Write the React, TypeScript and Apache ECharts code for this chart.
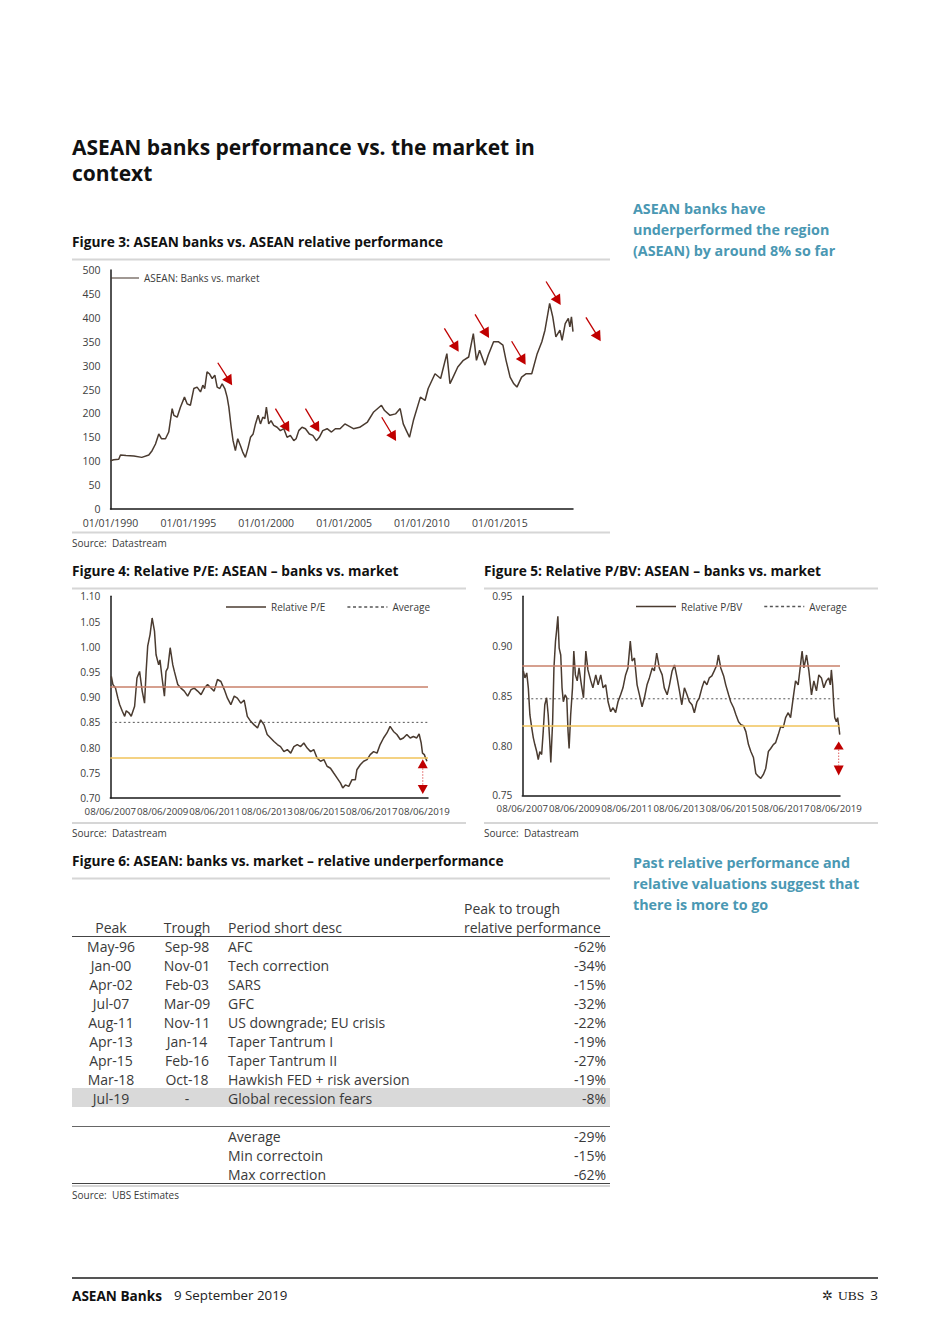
import React, { useEffect, useRef } from "react";
import * as echarts from "echarts";

const FONT = '"Open Sans", "Noto Sans", "DejaVu Sans", sans-serif';
const INK = "#3a3a3a";
const AXIS_TXT = "#404040";
const SERIES = "#4a3b30";
const RED = "#c00000";
const TEAL = "#4a98b3";
const BAND_HIGH = "#c8806a";
const BAND_LOW = "#f0c35a";

// ---------- Figure 3: ASEAN banks vs. market (index, by year) ----------
const fig3Ticks = [1990, 1995, 2000, 2005, 2010, 2015];
const bankVsMarket: [number, number][] = [
  [1990.0, 101], [1990.21, 103], [1990.53, 104], [1990.64, 113], [1991.0, 112], [1991.5, 111],
  [1992.01, 108], [1992.46, 113], [1992.67, 122], [1992.89, 136], [1993.1, 157], [1993.27, 147],
  [1993.53, 147], [1993.74, 161], [1993.96, 210], [1994.07, 196], [1994.28, 192], [1994.49, 213],
  [1994.75, 234], [1994.92, 220], [1995.13, 217], [1995.35, 252], [1995.56, 255], [1995.78, 245],
  [1995.93, 259], [1996.05, 252], [1996.2, 287], [1996.35, 283], [1996.53, 273], [1996.7, 280],
  [1996.85, 255], [1997.02, 252], [1997.17, 262], [1997.34, 252], [1997.49, 234], [1997.6, 213],
  [1997.75, 171], [1997.87, 143], [1998.02, 122], [1998.17, 147], [1998.34, 133], [1998.49, 119],
  [1998.66, 108], [1998.84, 129], [1998.99, 150], [1999.16, 157], [1999.31, 178], [1999.48, 196],
  [1999.63, 178], [1999.78, 192], [1999.91, 189], [2000.01, 213], [2000.16, 178], [2000.31, 185],
  [2000.48, 175], [2000.7, 171], [2000.91, 164], [2001.13, 168], [2001.34, 150], [2001.55, 154],
  [2001.77, 143], [2001.92, 147], [2002.09, 164], [2002.3, 171], [2002.52, 168], [2002.77, 157],
  [2002.99, 154], [2003.22, 143], [2003.41, 150], [2003.63, 164], [2003.91, 168], [2004.19, 161],
  [2004.44, 168], [2004.74, 168], [2005.05, 178], [2005.6, 168], [2006.0, 171], [2006.5, 182],
  [2006.9, 203], [2007.4, 217], [2007.6, 206], [2007.95, 196], [2008.3, 199], [2008.6, 210],
  [2008.8, 178], [2009.0, 164], [2009.2, 150], [2009.45, 185], [2009.9, 234], [2010.2, 227],
  [2010.4, 252], [2010.84, 283], [2011.2, 273], [2011.6, 325], [2011.8, 262], [2012.0, 276],
  [2012.3, 297], [2012.66, 311], [2013.0, 318], [2013.3, 367], [2013.5, 311], [2013.7, 332],
  [2014.05, 301], [2014.26, 322], [2014.6, 350], [2014.9, 350], [2015.2, 343], [2015.4, 311],
  [2015.66, 276], [2015.9, 262], [2016.1, 255], [2016.4, 276], [2016.7, 283], [2017.05, 283],
  [2017.4, 325], [2017.7, 350], [2017.9, 374], [2018.2, 430], [2018.4, 402], [2018.6, 360],
  [2018.86, 374], [2019.0, 353], [2019.2, 388], [2019.4, 399], [2019.5, 381], [2019.6, 402],
  [2019.7, 371],
];
// red arrows (data coords: x1, y1, x2, y2)
const fig3Arrows: [number, number, number, number][] = [
  [1996.89, 306, 1997.81, 259],
  [2000.59, 210, 2001.49, 161],
  [2002.52, 210, 2003.41, 161],
  [2007.42, 192, 2008.34, 142],
  [2011.44, 378, 2012.36, 329],
  [2013.41, 407, 2014.31, 358],
  [2015.76, 351, 2016.66, 302],
  [2017.97, 476, 2018.91, 427],
  [2020.53, 401, 2021.48, 351],
];

// ---------- Figure 4 / 5: years since 08/06/2007 ----------
const valTickLabels = ["08/06/2007", "08/06/2009", "08/06/2011", "08/06/2013", "08/06/2015", "08/06/2017", "08/06/2019"];
const relativePE: [number, number][] = [
  [0.04, 0.941], [0.1, 0.925], [0.2, 0.918], [0.29, 0.898], [0.36, 0.885], [0.46, 0.872], [0.55, 0.862],
  [0.61, 0.873], [0.71, 0.869], [0.8, 0.862], [0.93, 0.882], [1.02, 0.938], [1.12, 0.951], [1.22, 0.912],
  [1.31, 0.888], [1.37, 0.951], [1.43, 1.001], [1.52, 1.024], [1.6, 1.057], [1.69, 1.031], [1.75, 0.984],
  [1.85, 0.964], [1.9, 0.974], [1.98, 0.938], [2.07, 0.902], [2.13, 0.951], [2.2, 0.958], [2.29, 0.998],
  [2.39, 0.964], [2.45, 0.951], [2.58, 0.925], [2.7, 0.918], [2.83, 0.912], [2.96, 0.902], [3.09, 0.915],
  [3.21, 0.918], [3.34, 0.912], [3.47, 0.905], [3.6, 0.918], [3.72, 0.925], [3.85, 0.918], [3.97, 0.912],
  [4.1, 0.935], [4.23, 0.931], [4.36, 0.915], [4.48, 0.898], [4.61, 0.885], [4.74, 0.902], [4.86, 0.898],
  [4.99, 0.888], [5.12, 0.894], [5.24, 0.862], [5.37, 0.852], [5.5, 0.845], [5.63, 0.839], [5.75, 0.855],
  [5.88, 0.845], [6.0, 0.826], [6.13, 0.819], [6.26, 0.812], [6.39, 0.806], [6.51, 0.802], [6.64, 0.792],
  [6.77, 0.796], [6.9, 0.789], [7.02, 0.802], [7.15, 0.806], [7.28, 0.802], [7.4, 0.809], [7.53, 0.799],
  [7.66, 0.792], [7.78, 0.796], [7.91, 0.779], [8.04, 0.773], [8.17, 0.776], [8.29, 0.763], [8.42, 0.759],
  [8.55, 0.749], [8.67, 0.74], [8.8, 0.73], [8.89, 0.72], [8.99, 0.726], [9.12, 0.723], [9.24, 0.736],
  [9.37, 0.736], [9.43, 0.756], [9.56, 0.766], [9.69, 0.773], [9.82, 0.776], [9.94, 0.786], [10.07, 0.792],
  [10.2, 0.789], [10.32, 0.806], [10.45, 0.819], [10.58, 0.829], [10.7, 0.842], [10.83, 0.832], [10.96, 0.826],
  [11.09, 0.816], [11.21, 0.819], [11.34, 0.826], [11.47, 0.819], [11.59, 0.822], [11.72, 0.819], [11.81, 0.827],
  [11.89, 0.809], [11.94, 0.789], [12.01, 0.786], [12.06, 0.779], [12.11, 0.773],
];
const peLevels = { high: 0.92, average: 0.85, low: 0.78 };
const peGap = { x: 11.95, upApex: 0.777, upBase: 0.759, downBase: 0.726, downApex: 0.708 };

const relativePBV: [number, number][] = [
  [0.04, 0.875], [0.1, 0.868], [0.17, 0.873], [0.23, 0.858], [0.29, 0.831], [0.36, 0.818], [0.42, 0.808],
  [0.48, 0.801], [0.55, 0.794], [0.61, 0.786], [0.67, 0.794], [0.74, 0.791], [0.8, 0.814], [0.86, 0.841],
  [0.93, 0.848], [0.99, 0.831], [1.05, 0.804], [1.09, 0.783], [1.16, 0.824], [1.21, 0.878], [1.27, 0.905],
  [1.31, 0.915], [1.36, 0.93], [1.41, 0.898], [1.47, 0.891], [1.52, 0.858], [1.57, 0.844], [1.64, 0.851],
  [1.7, 0.848], [1.75, 0.814], [1.79, 0.797], [1.85, 0.831], [1.92, 0.858], [1.97, 0.895], [2.03, 0.871],
  [2.1, 0.865], [2.17, 0.878], [2.26, 0.861], [2.34, 0.848], [2.43, 0.895], [2.51, 0.876], [2.62, 0.865],
  [2.7, 0.858], [2.81, 0.871], [2.9, 0.861], [3.0, 0.871], [3.09, 0.858], [3.19, 0.861], [3.28, 0.844],
  [3.38, 0.834], [3.47, 0.838], [3.57, 0.833], [3.66, 0.844], [3.76, 0.851], [3.85, 0.858], [3.95, 0.871],
  [4.04, 0.878], [4.13, 0.905], [4.2, 0.885], [4.29, 0.888], [4.39, 0.861], [4.48, 0.851], [4.58, 0.839],
  [4.67, 0.848], [4.77, 0.861], [4.86, 0.868], [4.97, 0.878], [5.05, 0.875], [5.14, 0.893], [5.24, 0.878],
  [5.35, 0.871], [5.43, 0.858], [5.54, 0.851], [5.63, 0.861], [5.73, 0.875], [5.82, 0.881], [5.92, 0.868],
  [6.01, 0.855], [6.1, 0.841], [6.2, 0.858], [6.3, 0.851], [6.39, 0.844], [6.49, 0.841], [6.58, 0.833],
  [6.68, 0.844], [6.77, 0.848], [6.87, 0.858], [6.96, 0.865], [7.06, 0.861], [7.15, 0.868], [7.25, 0.87],
  [7.34, 0.875], [7.44, 0.881], [7.5, 0.891], [7.59, 0.878], [7.7, 0.87], [7.78, 0.861], [7.89, 0.851],
  [7.97, 0.844], [8.08, 0.838], [8.17, 0.831], [8.27, 0.824], [8.36, 0.821], [8.46, 0.82], [8.55, 0.814],
  [8.65, 0.801], [8.74, 0.794], [8.84, 0.788], [8.93, 0.772], [9.03, 0.769], [9.12, 0.767], [9.22, 0.771],
  [9.31, 0.777], [9.41, 0.794], [9.5, 0.797], [9.6, 0.801], [9.69, 0.803], [9.79, 0.811], [9.88, 0.819],
  [9.98, 0.818], [10.07, 0.828], [10.17, 0.833], [10.26, 0.828], [10.36, 0.848], [10.45, 0.865], [10.55, 0.861],
  [10.64, 0.881], [10.7, 0.895], [10.77, 0.878], [10.87, 0.891], [10.96, 0.875], [11.06, 0.851], [11.15, 0.865],
  [11.25, 0.855], [11.34, 0.871], [11.44, 0.868], [11.53, 0.858], [11.63, 0.865], [11.72, 0.868], [11.78, 0.861],
  [11.82, 0.876], [11.87, 0.861], [11.91, 0.841], [11.95, 0.828], [12.01, 0.824], [12.06, 0.828], [12.11, 0.818],
  [12.14, 0.811],
];
const pbvLevels = { high: 0.877, average: 0.847, low: 0.816 };
const pbvGap = { x: 12.1, upApex: 0.804, upBase: 0.796, downBase: 0.78, downApex: 0.77 };
const VAL_MAX = 12.15;

// ---------- Figure 6 table ----------
const peaks = ["May-96", "Jan-00", "Apr-02", "Jul-07", "Aug-11", "Apr-13", "Apr-15", "Mar-18", "Jul-19"];
const troughs = ["Sep-98", "Nov-01", "Feb-03", "Mar-09", "Nov-11", "Jan-14", "Feb-16", "Oct-18", "-"];
const periodDescs = ["AFC", "Tech correction", "SARS", "GFC", "US downgrade; EU crisis", "Taper Tantrum I", "Taper Tantrum II", "Hawkish FED + risk aversion", "Global recession fears"];
const peakToTrough = ["-62%", "-34%", "-15%", "-32%", "-22%", "-19%", "-27%", "-19%", "-8%"];
const summaryLabels = ["Average", "Min correctoin", "Max correction"];
const summaryValues = ["-29%", "-15%", "-62%"];

// legend icons
const SOLID_ICON = "path://M0,0H40V1.5H0Z";
const DASH_ICON =
  "path://" +
  [0, 5.6, 11.2, 16.8, 22.4, 28, 33.6].map((s) => `M${s},0H${s + 3}V1.5H${s}Z`).join("") +
  "M39,0H40V1.5H39Z";

function txt(text: string, x: number, y: number, o: any = {}) {
  const align = o.align || "left";
  return {
    type: "text",
    x,
    y,
    silent: true,
    z: 10,
    style: {
      text,
      fill: o.color || INK,
      fontSize: o.size || 12,
      fontWeight: o.weight || "normal",
      fontFamily: o.family || FONT,
      textAlign: align,
      align,
      textVerticalAlign: "middle",
      verticalAlign: "middle",
    },
  };
}
function hline(x1: number, x2: number, y: number, color: string, w: number) {
  return { type: "line", silent: true, shape: { x1, y1: y, x2, y2: y }, style: { stroke: color, lineWidth: w } };
}

function staticGraphics() {
  const els: any[] = [];
  const H = { size: 13.7, weight: "bold", color: "#111" };
  els.push(txt("ASEAN banks performance vs. the market in", 72, 147, { size: 21, weight: "bold", color: "#111" }));
  els.push(txt("context", 72, 173, { size: 21, weight: "bold", color: "#111" }));
  ["ASEAN banks have", "underperformed the region", "(ASEAN) by around 8% so far"].forEach((t, i) =>
    els.push(txt(t, 633, 208 + i * 21, { size: 14.3, weight: "bold", color: TEAL }))
  );
  ["Past relative performance and", "relative valuations suggest that", "there is more to go"].forEach((t, i) =>
    els.push(txt(t, 633, 862 + i * 21, { size: 14.3, weight: "bold", color: TEAL }))
  );
  els.push(txt("Figure 3: ASEAN banks vs. ASEAN relative performance", 72, 241, H));
  els.push(txt("Figure 4: Relative P/E: ASEAN \u2013 banks vs. market", 72, 570, H));
  els.push(txt("Figure 5: Relative P/BV: ASEAN \u2013 banks vs. market", 484, 570, H));
  els.push(txt("Figure 6: ASEAN: banks vs. market \u2013 relative underperformance", 72, 860, H));
  // separators
  const sep = "#d6d6d6";
  els.push(hline(72, 610, 259.5, sep, 2));
  els.push(hline(72, 610, 532.5, sep, 2));
  els.push(hline(72, 466, 588.5, sep, 2));
  els.push(hline(72, 466, 823, sep, 2));
  els.push(hline(484, 878, 588.5, sep, 2));
  els.push(hline(484, 878, 823, sep, 2));
  els.push(hline(72, 610, 878.5, sep, 2));
  // sources
  const S = { size: 10 };
  els.push(txt("Source:  Datastream", 72, 543, S));
  els.push(txt("Source:  Datastream", 72, 833, S));
  els.push(txt("Source:  Datastream", 484, 833, S));
  els.push(txt("Source:  UBS Estimates", 72, 1195, S));
  // table
  els.push({ type: "rect", silent: true, shape: { x: 72, y: 1088, width: 538, height: 19 }, style: { fill: "#d9d9d9" } });
  els.push(hline(72, 610, 936.5, "#444", 1));
  els.push(hline(72, 610, 1126.5, "#666", 1));
  els.push(hline(72, 610, 1183.5, "#444", 1));
  els.push(hline(72, 610, 1186, "#d6d6d6", 2));
  const ts = { size: 14, color: INK };
  els.push(txt("Peak to trough", 464, 908, ts));
  els.push(txt("Peak", 111, 927, { ...ts, align: "center" }));
  els.push(txt("Trough", 187, 927, { ...ts, align: "center" }));
  els.push(txt("Period short desc", 228, 927, ts));
  els.push(txt("relative performance", 464, 927, ts));
  peaks.forEach((p, i) => {
    const y = 946 + i * 19;
    els.push(txt(p, 111, y, { ...ts, align: "center" }));
    els.push(txt(troughs[i], 187, y, { ...ts, align: "center" }));
    els.push(txt(periodDescs[i], 228, y, ts));
    els.push(txt(peakToTrough[i], 606, y, { ...ts, align: "right" }));
  });
  summaryLabels.forEach((s, i) => {
    const y = 1136 + i * 19;
    els.push(txt(s, 228, y, ts));
    els.push(txt(summaryValues[i], 606, y, { ...ts, align: "right" }));
  });
  // footer
  els.push(hline(72, 878, 1278, "#555", 2));
  els.push(txt("ASEAN Banks", 72, 1295, { size: 13.6, weight: "bold", color: "#111" }));
  els.push(txt("9 September 2019", 174, 1295, { size: 13.3, color: "#222" }));
  els.push(txt("\u2732", 822, 1295, { size: 13, color: "#222", family: '"DejaVu Sans", sans-serif' }));
  els.push(txt("UBS", 838, 1295, { size: 13.5, color: "#222", family: '"Liberation Serif", serif' }));
  els.push(txt("3", 878, 1295, { size: 13.5, color: "#222", align: "right" }));
  return els;
}

function arrowHead(tip: number[], dir: number[], len: number, half: number, color: string) {
  const bx = tip[0] - dir[0] * len;
  const by = tip[1] - dir[1] * len;
  const nx = -dir[1];
  const ny = dir[0];
  return {
    type: "polygon",
    silent: true,
    z: 20,
    shape: { points: [[tip[0], tip[1]], [bx + nx * half, by + ny * half], [bx - nx * half, by - ny * half]] },
    style: { fill: color },
  };
}

function buildArrows(chart: any) {
  const els: any[] = [];
  fig3Arrows.forEach(([x1, y1, x2, y2]) => {
    const p1 = chart.convertToPixel({ gridIndex: 0 }, [x1, y1]);
    const p2 = chart.convertToPixel({ gridIndex: 0 }, [x2, y2]);
    const dx = p2[0] - p1[0];
    const dy = p2[1] - p1[1];
    const L = Math.sqrt(dx * dx + dy * dy);
    const d = [dx / L, dy / L];
    const len = 10;
    els.push({
      type: "line",
      silent: true,
      z: 20,
      shape: { x1: p1[0], y1: p1[1], x2: p2[0] - d[0] * len * 0.8, y2: p2[1] - d[1] * len * 0.8 },
      style: { stroke: RED, lineWidth: 1.3 },
    });
    els.push(arrowHead(p2, d, len, 5.5, RED));
  });
  const gap = (gridIndex: number, g: any) => {
    const a = chart.convertToPixel({ gridIndex }, [g.x, g.upApex]);
    const b = chart.convertToPixel({ gridIndex }, [g.x, g.upBase]);
    const c = chart.convertToPixel({ gridIndex }, [g.x, g.downBase]);
    const e = chart.convertToPixel({ gridIndex }, [g.x, g.downApex]);
    els.push({
      type: "line",
      silent: true,
      z: 19,
      shape: { x1: b[0], y1: b[1], x2: c[0], y2: c[1] },
      style: { stroke: "#e06060", lineWidth: 1, lineDash: [1.5, 1.5] },
    });
    els.push(arrowHead(a, [0, -1], b[1] - a[1], 5, RED));
    els.push(arrowHead(e, [0, 1], e[1] - c[1], 5, RED));
  };
  gap(1, peGap);
  gap(2, pbvGap);
  return els;
}

function axisBase(gridIndex: number) {
  return {
    gridIndex,
    type: "value",
    axisLine: { show: true, onZero: false, lineStyle: { color: "#1a1a1a", width: 1.5 } },
    axisTick: { show: false },
    splitLine: { show: false },
  };
}

function buildOption() {
  const labelStyle = { color: AXIS_TXT, fontFamily: FONT, showMinLabel: true, hideOverlap: false };
  const valX = (gridIndex: number) => ({
    ...axisBase(gridIndex),
    min: 0,
    max: VAL_MAX,
    interval: 2,
    axisLabel: {
      ...labelStyle,
      fontSize: 9.7,
      margin: 8,
      formatter: (v: number) => (Number.isInteger(v) && v % 2 === 0 && valTickLabels[v / 2] ? valTickLabels[v / 2] : ""),
    },
  });
  const bandLines = (lv: any) => ({
    symbol: "none",
    silent: true,
    label: { show: false },
    emphasis: { disabled: true },
    data: [
      { yAxis: lv.high, lineStyle: { color: BAND_HIGH, width: 1.5, type: "solid" } },
      { yAxis: lv.low, lineStyle: { color: BAND_LOW, width: 1.5, type: "solid" } },
    ],
  });
  const legendText = { fontSize: 10, color: INK, fontFamily: FONT };
  return {
    animation: false,
    backgroundColor: "#fff",
    textStyle: { fontFamily: FONT },
    grid: [
      { left: 110.5, top: 270, width: 462.5, height: 239, outerBoundsMode: "none" },
      { left: 110.3, top: 596.3, width: 317.7, height: 201.7, outerBoundsMode: "none" },
      { left: 522.3, top: 596.3, width: 317.7, height: 199, outerBoundsMode: "none" },
    ],
    legend: [
      {
        left: 111,
        top: 273,
        padding: 0,
        itemWidth: 28,
        itemHeight: 1.5,
        selectedMode: false,
        data: [{ name: "ASEAN: Banks vs. market", icon: SOLID_ICON }],
        textStyle: legendText,
      },
      {
        left: 226,
        top: 602,
        padding: 0,
        itemWidth: 40,
        itemHeight: 1.5,
        itemGap: 22,
        selectedMode: false,
        data: [
          { name: "Relative P/E", icon: SOLID_ICON },
          { name: "Average", icon: DASH_ICON },
        ],
        textStyle: legendText,
      },
      {
        left: 636,
        top: 601.5,
        padding: 0,
        itemWidth: 40,
        itemHeight: 1.5,
        itemGap: 22,
        selectedMode: false,
        data: [
          { name: "Relative P/BV", icon: SOLID_ICON },
          { name: "Average", icon: DASH_ICON },
        ],
        textStyle: legendText,
      },
    ],
    xAxis: [
      {
        ...axisBase(0),
        min: 1990,
        max: 2019.7,
        interval: 5,
        axisLabel: {
          ...labelStyle,
          fontSize: 10.5,
          margin: 8,
          formatter: (v: number) => (fig3Ticks.indexOf(v) >= 0 ? `01/01/${v}` : ""),
        },
      },
      valX(1),
      valX(2),
    ],
    yAxis: [
      {
        ...axisBase(0),
        min: 0,
        max: 500,
        interval: 50,
        axisLabel: { ...labelStyle, fontSize: 10.5, margin: 10 },
      },
      {
        ...axisBase(1),
        min: 0.7,
        max: 1.1,
        interval: 0.05,
        axisLabel: { ...labelStyle, fontSize: 10.2, margin: 10, formatter: (v: number) => v.toFixed(2) },
      },
      {
        ...axisBase(2),
        min: 0.75,
        max: 0.95,
        interval: 0.05,
        axisLabel: { ...labelStyle, fontSize: 10.2, margin: 10, formatter: (v: number) => v.toFixed(2) },
      },
    ],
    series: [
      {
        name: "ASEAN: Banks vs. market",
        type: "line",
        xAxisIndex: 0,
        yAxisIndex: 0,
        data: bankVsMarket,
        symbol: "none",
        color: SERIES,
        lineStyle: { color: SERIES, width: 1.5 },
        silent: true,
      },
      {
        name: "Average",
        type: "line",
        xAxisIndex: 1,
        yAxisIndex: 1,
        data: [[0, peLevels.average], [VAL_MAX, peLevels.average]],
        symbol: "none",
        color: "#555",
        lineStyle: { color: "#555", width: 1, type: [2, 2.5] },
        silent: true,
        markLine: bandLines(peLevels),
      },
      {
        name: "Relative P/E",
        type: "line",
        xAxisIndex: 1,
        yAxisIndex: 1,
        data: relativePE,
        symbol: "none",
        color: SERIES,
        lineStyle: { color: SERIES, width: 1.5 },
        silent: true,
      },
      {
        name: "Average",
        type: "line",
        xAxisIndex: 2,
        yAxisIndex: 2,
        data: [[0, pbvLevels.average], [VAL_MAX, pbvLevels.average]],
        symbol: "none",
        color: "#555",
        lineStyle: { color: "#555", width: 1, type: [2, 2.5] },
        silent: true,
        markLine: bandLines(pbvLevels),
      },
      {
        name: "Relative P/BV",
        type: "line",
        xAxisIndex: 2,
        yAxisIndex: 2,
        data: relativePBV,
        symbol: "none",
        color: SERIES,
        lineStyle: { color: SERIES, width: 1.5 },
        silent: true,
      },
    ],
  };
}

export default function App() {
  const ref = useRef<HTMLDivElement>(null);
  useEffect(() => {
    if (!ref.current) return;
    const chart = echarts.init(ref.current, null, { renderer: "svg" });
    chart.setOption(buildOption() as any);
    const arrows = buildArrows(chart);
    chart.setOption({ graphic: { elements: [...staticGraphics(), ...arrows] } } as any);
    return () => chart.dispose();
  }, []);
  return (
    <div
      ref={ref}
      style={{ position: "absolute", left: 0, top: 0, width: 950, height: 1344, background: "#fff" }}
    />
  );
}
